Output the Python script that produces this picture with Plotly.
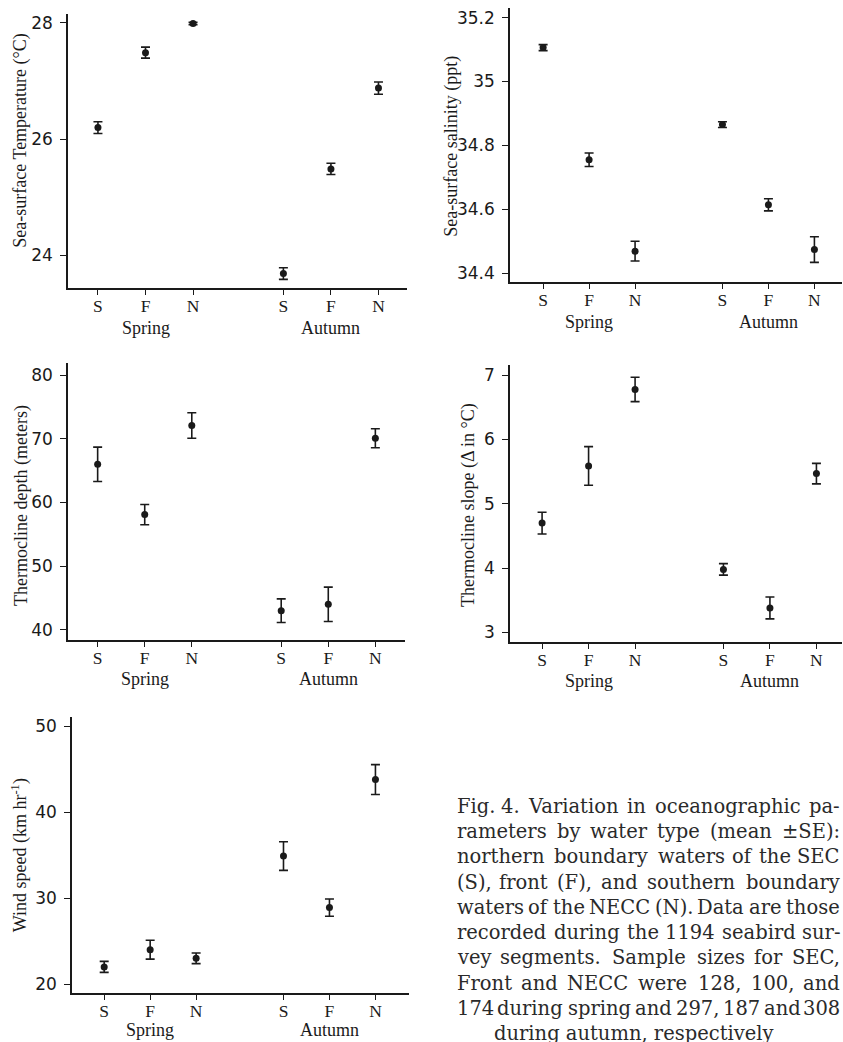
import plotly.graph_objects as go

# ---------------- data ----------------
seasons = ["Spring", "Autumn"]
water_types = ["S", "F", "N"]

sst_mean = [26.20, 27.49, 27.99, 23.69, 25.49, 26.88]
sst_se = [0.10, 0.095, 0.02, 0.10, 0.097, 0.105]

sss_mean = [35.106, 34.755, 34.469, 34.865, 34.614, 34.474]
sss_se = [0.0095, 0.021, 0.031, 0.009, 0.019, 0.040]

depth_mean = [66.0, 58.1, 72.1, 43.0, 44.0, 70.1]
depth_se = [2.7, 1.6, 2.0, 1.85, 2.7, 1.5]

slope_mean = [4.70, 5.59, 6.78, 3.98, 3.38, 5.47]
slope_se = [0.17, 0.30, 0.19, 0.09, 0.17, 0.16]

wind_mean = [22.0, 24.0, 23.0, 34.9, 28.9, 43.8]
wind_se = [0.64, 1.1, 0.62, 1.67, 1.0, 1.74]

sst_ticks = [24, 26, 28]
sss_ticks = [34.4, 34.6, 34.8, 35.0, 35.2]
sss_ticklabels = ["34.4", "34.6", "34.8", "35", "35.2"]
depth_ticks = [40, 50, 60, 70, 80]
slope_ticks = [3, 4, 5, 6, 7]
wind_ticks = [20, 30, 40, 50]

caption_lines = [
    "Fig. 4. Variation in oceanographic pa-",
    "rameters by water type (mean \u00b1SE):",
    "northern boundary waters of the SEC",
    "(S), front (F), and southern boundary",
    "waters of the NECC (N). Data are those",
    "recorded during the 1194 seabird sur-",
    "vey segments. Sample sizes for SEC,",
    "Front and NECC were 128, 100, and",
    "174 during spring and 297, 187 and 308",
    "during autumn, respectively",
]

# ---------------- layout helpers ----------------
W, H = 843, 1042
GROUP_GAP = 3.9
xpos = [i for i in range(3)] + [GROUP_GAP + i for i in range(3)]
ticktext = water_types * 2


def px_x(p):
    return p / W


def px_y(p):
    return 1 - p / H


INK = "#1a1a1a"
SERIF = "Liberation Serif, Times New Roman, serif"
SANS = "DejaVu Sans, Verdana, sans-serif"

panels = [
    dict(mean=sst_mean, se=sst_se, xd=(68, 407), yd=(13, 288),
         yr=(23.433, 28.155), xr=(-0.63, 6.5), tv=sst_ticks, tt=None,
         title="Sea-surface Temperature (\u00b0C)", tx=21, ty=140, so=40),
    dict(mean=sss_mean, se=sss_se, xd=(510, 842), yd=(7, 282),
         yr=(34.371, 35.230), xr=(-0.72, 6.5), tv=sss_ticks, tt=sss_ticklabels,
         title="Sea-surface salinity (ppt)", tx=452, ty=146, so=40),
    dict(mean=depth_mean, se=depth_se, xd=(68, 405), yd=(363, 640),
         yr=(38.43, 81.88), xr=(-0.63, 6.53), tv=depth_ticks, tt=None,
         title="Thermocline depth (meters)", tx=21, ty=506, so=39),
    dict(mean=slope_mean, se=slope_se, xd=(510, 842), yd=(365, 642),
         yr=(2.854, 7.155), xr=(-0.69, 6.45), tv=slope_ticks, tt=None,
         title="Thermocline slope (\u0394 in \u00b0C)", tx=468, ty=505, so=39),
    dict(mean=wind_mean, se=wind_se, xd=(72, 409), yd=(717, 994),
         yr=(18.95, 51.13), xr=(-0.70, 6.63), tv=wind_ticks, tt=None,
         title="Wind speed (km hr<sup>-1</sup>)", tx=20, ty=856, so=37),
]

fig = go.Figure()
annotations = []
layout_axes = {}

for i, p in enumerate(panels, start=1):
    xa = "x" if i == 1 else f"x{i}"
    ya = "y" if i == 1 else f"y{i}"
    fig.add_trace(go.Scatter(
        x=xpos, y=p["mean"], mode="markers",
        marker=dict(size=7, color=INK),
        error_y=dict(type="data", array=p["se"], visible=True,
                     color=INK, thickness=1.6, width=4.5),
        xaxis=xa, yaxis=ya, showlegend=False, hoverinfo="skip",
    ))
    xkey = "xaxis" if i == 1 else f"xaxis{i}"
    ykey = "yaxis" if i == 1 else f"yaxis{i}"
    layout_axes[xkey] = dict(
        domain=[px_x(p["xd"][0]), px_x(p["xd"][1])],
        range=list(p["xr"]), anchor=ya,
        tickmode="array", tickvals=xpos, ticktext=ticktext,
        ticks="outside", ticklen=5, tickwidth=1.3, tickcolor=INK,
        showline=True, linecolor=INK, linewidth=1.6,
        showgrid=False, zeroline=False,
        tickfont=dict(family=SERIF, size=17.5, color=INK),
        ticklabelstandoff=-4,
    )
    yaxis = dict(
        domain=[px_y(p["yd"][1]), px_y(p["yd"][0])],
        range=list(p["yr"]), anchor=xa,
        tickmode="array", tickvals=p["tv"],
        ticks="outside", ticklen=6, tickwidth=1.3, tickcolor=INK,
        showline=True, linecolor=INK, linewidth=1.6,
        showgrid=False, zeroline=False,
        tickfont=dict(family=SANS, size=17, color=INK),
        ticklabelstandoff=4,
    )
    if p["tt"] is not None:
        yaxis["ticktext"] = p["tt"]
    layout_axes[ykey] = yaxis

    # season labels under each group
    for g, season in enumerate(seasons):
        centre = sum(xpos[g * 3:(g + 1) * 3]) / 3
        annotations.append(dict(
            x=centre, xref=xa, y=px_y(p["yd"][1] + p["so"]), yref="paper",
            text=season, showarrow=False, xanchor="center", yanchor="middle",
            font=dict(family=SERIF, size=18, color=INK),
        ))
    # y title
    annotations.append(dict(
        x=px_x(p["tx"]), y=px_y(p["ty"]), xref="paper", yref="paper",
        text=p["title"], textangle=-90, showarrow=False,
        xanchor="center", yanchor="middle",
        font=dict(family=SERIF, size=18, color=INK),
    ))

# ---------------- caption (justified word by word) ----------------
CAP_FONT = "DejaVu Serif, serif"
CAP_SIZE = 19.5
CAP_LEFT, CAP_RIGHT = 455, 842
CAP_TOP, CAP_STEP = 807, 25.3
WIDTH_FUDGE = 1.04
cw = {
    " ": .318, "a": .596, "b": .640, "c": .560, "d": .640, "e": .592, "f": .370,
    "g": .640, "h": .644, "i": .320, "j": .320, "k": .610, "l": .320, "m": .948,
    "n": .644, "o": .602, "p": .640, "q": .640, "r": .478, "s": .513, "t": .402,
    "u": .644, "v": .565, "w": .856, "x": .564, "y": .565, "z": .527,
    "A": .722, "C": .735, "D": .765, "E": .730, "F": .694, "N": .814, "S": .685,
    "V": .722, ",": .318, ".": .318, "(": .390, ")": .390, "-": .338, ":": .337,
    "\u00b1": .838,
}


def text_w(s):
    return sum(cw.get(ch, .636) for ch in s) * CAP_SIZE * WIDTH_FUDGE


cap_font = dict(family=CAP_FONT, size=CAP_SIZE, color="#2a2a2a")
for li, line in enumerate(caption_lines):
    yc = px_y(CAP_TOP + li * CAP_STEP)
    if li == len(caption_lines) - 1:
        annotations.append(dict(
            x=px_x(634), y=yc, xref="paper", yref="paper", text=line,
            showarrow=False, xanchor="center", yanchor="middle", font=cap_font,
        ))
        continue
    words = line.split(" ")
    widths = [text_w(w_) for w_ in words]
    gap = (CAP_RIGHT - CAP_LEFT - sum(widths)) / (len(words) - 1)
    xcur = CAP_LEFT
    for wi, (word, ww) in enumerate(zip(words, widths)):
        if wi == 0:
            ax, anchor = CAP_LEFT, "left"
        elif wi == len(words) - 1:
            ax, anchor = CAP_RIGHT, "right"
        else:
            ax, anchor = xcur + ww / 2, "center"
        annotations.append(dict(
            x=px_x(ax), y=yc, xref="paper", yref="paper", text=word,
            showarrow=False, xanchor=anchor, yanchor="middle", font=cap_font,
        ))
        xcur += ww + gap

fig.update_layout(
    width=W, height=H,
    margin=dict(l=0, r=0, t=0, b=0),
    paper_bgcolor="white", plot_bgcolor="white",
    showlegend=False,
    annotations=annotations,
    **layout_axes,
)

fig.write_html(
    "out.html",
    config={"displayModeBar": False},
    post_script=(
        "document.body.style.margin='0px';"
        "document.body.style.padding='0px';"
        "document.documentElement.style.overflow='hidden';"
        "document.body.style.overflow='hidden';"
    ),
)
